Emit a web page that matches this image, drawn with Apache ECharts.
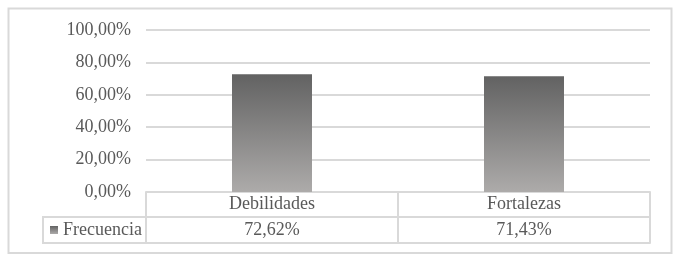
<!DOCTYPE html>
<html>
<head>
<meta charset="utf-8">
<script src="https://cdn.jsdelivr.net/npm/echarts@6/dist/echarts.min.js"></script>
<style>
html,body{margin:0;padding:0;background:#fff;}
#chart{width:679px;height:260px;}
</style>
</head>
<body>
<div id="chart"></div>
<script>
const categories = ['Debilidades', 'Fortalezas'];
const seriesName = 'Frecuencia';
const frecuencia = [0.7262, 0.7143];
const yTickLabels = ['0,00%', '20,00%', '40,00%', '60,00%', '80,00%', '100,00%'];

const FONT = "'Liberation Serif', 'Times New Roman', serif";
const TEXT = '#595959';
const LINE = '#d9d9d9';

function pct(v) {
  return (v * 100).toFixed(2).replace('.', ',') + '%';
}

const barGradient = new echarts.graphic.LinearGradient(0, 0, 0, 1, [
  { offset: 0, color: '#626262' },
  { offset: 1, color: '#adabaa' }
]);

const chart = echarts.init(document.getElementById('chart'), null, { renderer: 'canvas' });

chart.setOption({
  animation: false,
  backgroundColor: '#ffffff',
  textStyle: { fontFamily: FONT },
  grid: { left: 146, right: 29, top: 30, bottom: 68, containLabel: false },
  legend: {
    show: true,
    left: 50,
    top: 221,
    padding: 0,
    itemWidth: 8,
    itemHeight: 8,
    icon: 'rect',
    textStyle: { fontFamily: FONT, fontSize: 18, color: TEXT, lineHeight: 18 },
    data: [seriesName]
  },
  xAxis: [
    {
      type: 'category',
      data: categories,
      position: 'bottom',
      axisLine: { show: true, lineStyle: { color: LINE, width: 2 } },
      axisTick: { show: true, length: 51, lineStyle: { color: LINE, width: 2 } },
      axisLabel: {
        margin: 12.5,
        verticalAlign: 'middle',
        fontFamily: FONT,
        fontSize: 18,
        color: TEXT
      },
      splitLine: { show: false }
    },
    {
      type: 'category',
      data: categories,
      position: 'bottom',
      offset: 25,
      axisLine: { show: true, onZero: false, lineStyle: { color: LINE, width: 2 } },
      axisTick: { show: false },
      axisLabel: {
        margin: 13,
        verticalAlign: 'middle',
        fontFamily: FONT,
        fontSize: 18,
        color: TEXT,
        formatter: function (value, index) { return pct(frecuencia[index]); }
      }
    },
    {
      type: 'category',
      data: categories,
      position: 'bottom',
      offset: 51,
      axisLine: { show: true, onZero: false, lineStyle: { color: LINE, width: 2 } },
      axisTick: { show: false },
      axisLabel: { show: false }
    }
  ],
  yAxis: {
    type: 'value',
    min: 0,
    max: 1,
    interval: 0.2,
    axisLine: { show: false },
    axisTick: { show: false },
    axisLabel: {
      margin: 15,
      fontFamily: FONT,
      fontSize: 18,
      color: TEXT,
      formatter: function (v) { return yTickLabels[Math.round(v / 0.2)]; }
    },
    splitLine: { show: true, lineStyle: { color: LINE, width: 2 } }
  },
  series: [
    {
      name: seriesName,
      type: 'bar',
      xAxisIndex: 0,
      data: frecuencia,
      barWidth: 80,
      itemStyle: { color: barGradient }
    }
  ],
  graphic: [
    {
      type: 'rect',
      shape: { x: 8.5, y: 8.5, width: 663, height: 244.5 },
      style: { fill: 'none', stroke: LINE, lineWidth: 2 },
      silent: true
    },
    {
      type: 'rect',
      shape: { x: 43, y: 217, width: 103, height: 26 },
      style: { fill: 'none', stroke: LINE, lineWidth: 2 },
      silent: true
    }
  ]
});
</script>
</body>
</html>
